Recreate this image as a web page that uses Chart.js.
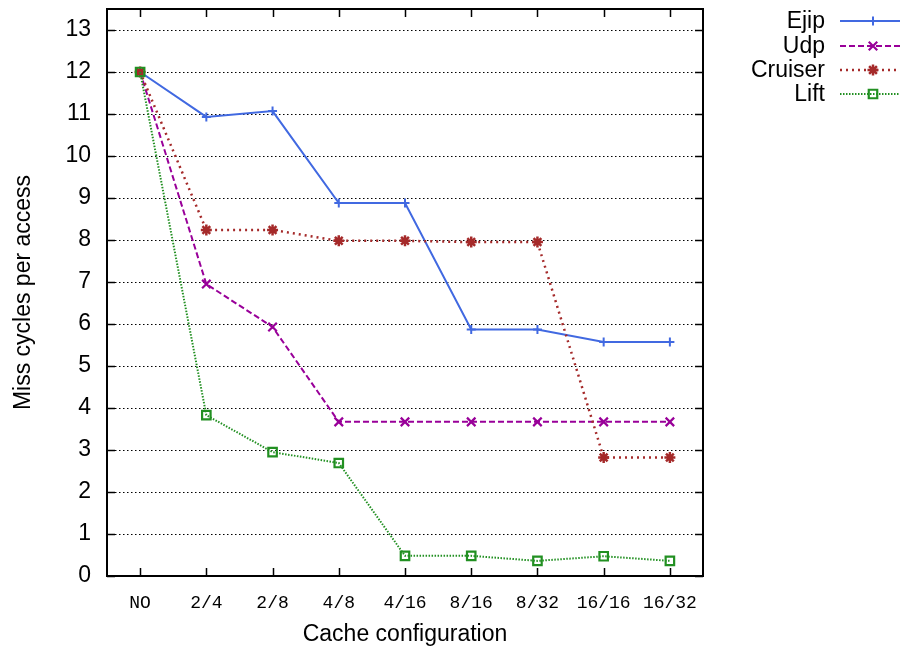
<!DOCTYPE html>
<html>
<head>
<meta charset="utf-8">
<script src="https://cdn.jsdelivr.net/npm/chart.js@4/dist/chart.umd.min.js"></script>
<style>
  html, body { margin: 0; padding: 0; background: #fff; }
  #wrap { width: 900px; height: 650px; }
</style>
</head>
<body>
<div id="wrap"><canvas id="c" width="900" height="650"></canvas></div>
<script>
const categories = ['NO', '2/4', '2/8', '4/8', '4/16', '8/16', '8/32', '16/16', '16/32'];
const ejip    = [12, 10.93, 11.07, 8.88, 8.88, 5.87, 5.87, 5.57, 5.57];
const udp     = [12, 6.95, 5.93, 3.67, 3.67, 3.67, 3.67, 3.67, 3.67];
const cruiser = [12, 8.24, 8.24, 7.98, 7.98, 7.95, 7.95, 2.82, 2.82];
const lift    = [12, 3.83, 2.95, 2.69, 0.48, 0.48, 0.36, 0.47, 0.36];
const seriesNames = ['Ejip', 'Udp', 'Cruiser', 'Lift'];
const yTickValues = [0, 1, 2, 3, 4, 5, 6, 7, 8, 9, 10, 11, 12, 13];
const yMax = 13.5;

const SANS = '"Liberation Sans", Arial, Helvetica, sans-serif';
const MONO = '"Liberation Mono", "Courier New", monospace';

const datasets = [
  { label: seriesNames[0], data: ejip, borderColor: '#4169e1', backgroundColor: 'rgba(0,0,0,0)',
    borderWidth: 2, borderDash: [], pointStyle: 'cross', pointRadius: 4.5, pointBorderWidth: 2, order: 3 },
  { label: seriesNames[1], data: udp, borderColor: '#990099', backgroundColor: 'rgba(0,0,0,0)',
    borderWidth: 2, borderDash: [6, 3], pointStyle: 'crossRot', pointRadius: 6, pointBorderWidth: 2.2, order: 2 },
  { label: seriesNames[2], data: cruiser, borderColor: '#a52a2a', backgroundColor: 'rgba(0,0,0,0)',
    borderWidth: 2.5, borderDash: [2, 4], pointStyle: 'star', pointRadius: 5.5, pointBorderWidth: 2.5, order: 1 },
  { label: seriesNames[3], data: lift, borderColor: '#229022', backgroundColor: 'rgba(0,0,0,0)',
    borderWidth: 2, borderDash: [1.5, 1.5], pointStyle: 'rect', pointRadius: 6, pointBorderWidth: 2.2, order: 0 }
];
datasets.forEach(d => {
  d.pointBorderColor = d.borderColor;
  d.pointBackgroundColor = 'rgba(0,0,0,0)';
  d.tension = 0;
  d.fill = false;
});

const framePlugin = {
  id: 'frame',
  afterDraw(chart) {
    const ctx = chart.ctx;
    const a = chart.chartArea;
    const xs = chart.scales.x, ys = chart.scales.y;
    ctx.save();
    ctx.setLineDash([]);
    ctx.strokeStyle = '#000';
    ctx.lineWidth = 1.5;
    ctx.beginPath();
    yTickValues.forEach(v => {
      const y = Math.round(ys.getPixelForValue(v)) + 0.5;
      ctx.moveTo(a.left, y); ctx.lineTo(a.left + 8, y);
      ctx.moveTo(a.right, y); ctx.lineTo(a.right - 8, y);
    });
    categories.forEach((c, i) => {
      const x = Math.round(xs.getPixelForValue(i)) + 0.5;
      ctx.moveTo(x, a.bottom); ctx.lineTo(x, a.bottom - 8);
      ctx.moveTo(x, a.top); ctx.lineTo(x, a.top + 8);
    });
    ctx.stroke();
    ctx.lineWidth = 2;
    ctx.strokeRect(a.left, a.top, a.right - a.left, a.bottom - a.top);

    // legend
    const rowsY = [21, 46, 70, 94];
    ctx.font = '23px ' + SANS;
    ctx.textAlign = 'right';
    ctx.textBaseline = 'middle';
    chart.data.datasets.forEach((d, i) => {
      const y = rowsY[i];
      ctx.fillStyle = '#000';
      ctx.fillText(d.label, 825, y + 1);
      ctx.strokeStyle = d.borderColor;
      ctx.lineWidth = d.borderWidth;
      ctx.setLineDash(d.borderDash || []);
      ctx.beginPath();
      ctx.moveTo(840, y); ctx.lineTo(905, y);
      ctx.stroke();
      ctx.setLineDash([]);
      ctx.lineWidth = d.pointBorderWidth;
      ctx.fillStyle = 'rgba(0,0,0,0)';
      if (Chart.helpers && Chart.helpers.drawPoint) {
        Chart.helpers.drawPoint(ctx, { pointStyle: d.pointStyle, rotation: 0, radius: d.pointRadius, borderWidth: d.pointBorderWidth }, 873, y);
      }
    });
    ctx.restore();
  }
};

new Chart(document.getElementById('c'), {
  type: 'line',
  data: { labels: categories, datasets: datasets },
  options: {
    responsive: false,
    animation: false,
    devicePixelRatio: 1,
    layout: { padding: { top: 9, right: 197, bottom: 0, left: 0 } },
    plugins: { legend: { display: false }, tooltip: { enabled: false } },
    scales: {
      x: {
        type: 'category',
        offset: true,
        grid: { display: false, drawTicks: false },
        border: { display: false },
        ticks: { color: '#000', font: { family: MONO, size: 18 }, padding: 16, maxRotation: 0, autoSkip: false },
        title: { display: true, text: 'Cache configuration', color: '#000', font: { family: SANS, size: 23 }, padding: { top: 0, bottom: 2 } },
        afterFit(scale) { scale.height = 74; scale.paddingLeft = 0; scale.paddingRight = 0; }
      },
      y: {
        min: 0,
        max: yMax,
        grid: { color: '#000', lineWidth: 1, drawTicks: false },
        border: { display: false, dash: [1.5, 2.5] },
        ticks: { stepSize: 1, color: '#000', font: { family: SANS, size: 23 }, padding: 16 },
        afterBuildTicks(scale) { scale.ticks = yTickValues.map(v => ({ value: v })); },
        title: { display: true, text: 'Miss cycles per access', color: '#000', font: { family: SANS, size: 23 }, padding: { top: 10, bottom: 0 } },
        afterFit(scale) { scale.width = 107; scale.paddingTop = 0; scale.paddingBottom = 0; }
      }
    }
  },
  plugins: [framePlugin]
});
</script>
</body>
</html>
